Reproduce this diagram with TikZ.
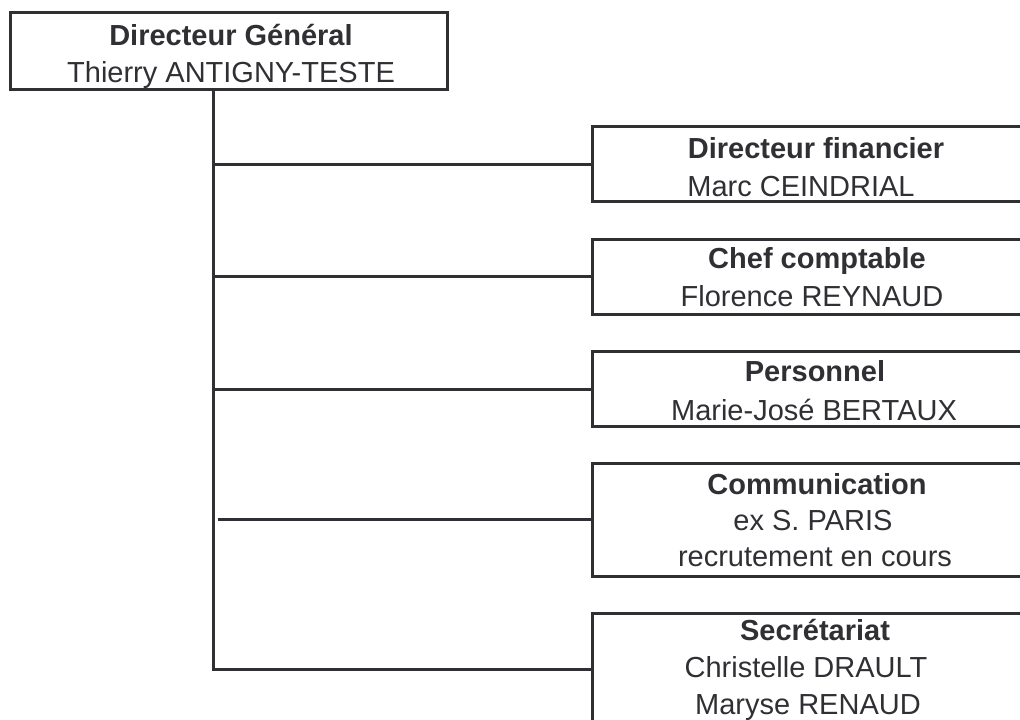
\documentclass[tikz,border=0pt]{standalone}
\usepackage{fontspec}
\setmainfont{Liberation Sans}
\definecolor{ink}{RGB}{48,48,52}
\tikzset{
  box/.style={draw=ink, line width=3pt, rectangle, inner sep=0pt, minimum width=450pt},
  twoline/.style={box, minimum height=75pt},
  threeline/.style={box, minimum height=113pt},
  ttl/.style={anchor=base, inner sep=0pt, text=ink, font=\fontsize{29}{37}\selectfont\bfseries},
  txt/.style={anchor=base, inner sep=0pt, text=ink, font=\fontsize{29}{37}\selectfont},
  link/.style={draw=ink, line width=3pt}
}
\begin{document}
\begin{tikzpicture}[x=1pt,y=-1pt]
\useasboundingbox (0,0) rectangle (1020,720);
\clip (0,0) rectangle (1020,720);
% boxes
\node[box, minimum width=437pt, minimum height=77pt] (dg) at (228.5,51) {};
\node[twoline] (b1) at (817,164) {};
\node[twoline] (b2) at (817,276.5) {};
\node[twoline] (b3) at (817,389) {};
\node[threeline] (b4) at (817,519.5) {};
\node[threeline] (b5) at (817,669.5) {};
% texts
\node[ttl] (t0a) at (231,45) {Directeur Général};
\node[txt] (t0b) at (231,82) {Thierry ANTIGNY-TESTE};
\node[ttl] (t1a) at (816,158) {Directeur financier};
\node[txt] (t1b) at (801,196) {Marc CEINDRIAL};
\node[ttl] (t2a) at (817,268) {Chef comptable};
\node[txt] (t2b) at (812,306) {Florence REYNAUD};
\node[ttl] (t3a) at (815,381) {Personnel};
\node[txt] (t3b) at (814,420) {Marie-José BERTAUX};
\node[ttl] (t4a) at (817,494) {Communication};
\node[txt] (t4b) at (813,530) {ex S. PARIS};
\node[txt] (t4c) at (815,566) {recrutement en cours};
\node[ttl] (t5a) at (815,640) {Secrétariat};
\node[txt] (t5b) at (806,677) {Christelle DRAULT};
\node[txt] (t5c) at (808,714) {Maryse RENAUD};
% connectors
\coordinate (trunk) at (213.5,0);
\coordinate (trunk4) at (217.5,0);
\draw[link] (dg.south -| trunk) |- (b5.west);
\draw[link] (trunk |- b1.west) -- (b1.west);
\draw[link] (trunk |- b2.west) -- (b2.west);
\draw[link] (trunk |- b3.west) -- (b3.west);
\draw[link] (trunk4 |- b4.west) -- (b4.west);
\end{tikzpicture}
\end{document}
